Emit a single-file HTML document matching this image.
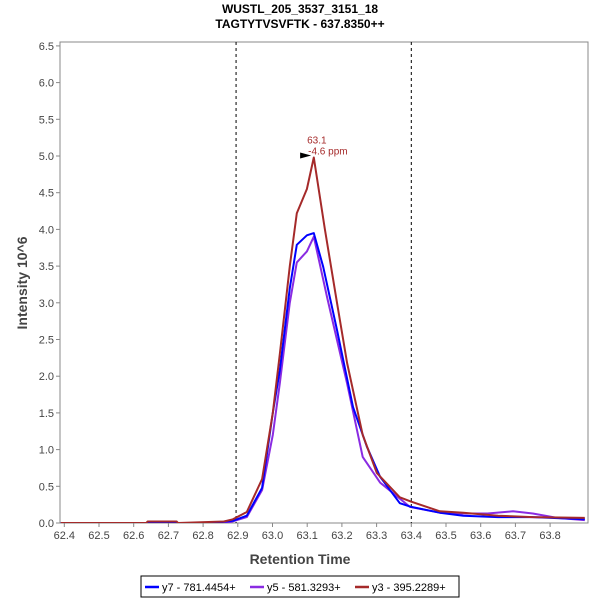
<!DOCTYPE html>
<html><head><meta charset="utf-8"><style>
body{margin:0;background:#fff;font-family:"Liberation Sans",sans-serif}
svg text{font-family:"Liberation Sans",sans-serif}
</style></head><body>
<svg width="600" height="600" xmlns="http://www.w3.org/2000/svg">
<rect x="0" y="0" width="600" height="600" fill="#fff"/>
<text x="300" y="13" text-anchor="middle" font-size="12" font-weight="bold">WUSTL_205_3537_3151_18</text>
<text x="300" y="28" text-anchor="middle" font-size="12" font-weight="bold">TAGTYTVSVFTK - 637.8350++</text>
<g id="axes"></g>
<g id="series"></g>
<text x="300" y="564" text-anchor="middle" font-size="14" font-weight="bold" fill="#444">Retention Time</text>
<text transform="translate(27,283) rotate(-90)" text-anchor="middle" font-size="14" font-weight="bold" fill="#444">Intensity 10^6</text>
<g>
<rect x="141" y="576" width="318" height="21" fill="#fff" stroke="#000"/>
<line x1="145" y1="587" x2="159" y2="587" stroke="#0000ff" stroke-width="2.5"/>
<text x="162" y="591" font-size="11">y7 - 781.4454+</text>
<line x1="250" y1="587" x2="264" y2="587" stroke="#8a2be2" stroke-width="2.5"/>
<text x="267" y="591" font-size="11">y5 - 581.3293+</text>
<line x1="355" y1="587" x2="369" y2="587" stroke="#a52a2a" stroke-width="2.5"/>
<text x="372" y="591" font-size="11">y3 - 395.2289+</text>
</g>
</svg>
<script>
const xTicks=[62.4,62.5,62.6,62.7,62.8,62.9,63.0,63.1,63.2,63.3,63.4,63.5,63.6,63.7,63.8];
const yTicks=[0,0.5,1,1.5,2,2.5,3,3.5,4,4.5,5,5.5,6,6.5];
const boundaries=[62.895,63.4];
const y3X=[62.39,62.636,62.64,62.724,62.728,62.86,62.886,62.926,62.97,63.001,63.021,63.05,63.07,63.099,63.119,63.151,63.186,63.215,63.26,63.301,63.367,63.4,63.482,63.55,63.65,63.75,63.9];
const y3Y=[0,0,0.02,0.02,0,0.02,0.05,0.15,0.6,1.5,2.3,3.5,4.22,4.55,4.98,4.0,3.0,2.18,1.2,0.68,0.35,0.29,0.16,0.14,0.1,0.08,0.07];
const y7X=[62.39,62.83,62.886,62.926,62.97,63.001,63.021,63.05,63.07,63.099,63.119,63.146,63.186,63.232,63.272,63.31,63.367,63.4,63.482,63.55,63.65,63.75,63.9];
const y7Y=[0,0,0.03,0.1,0.48,1.5,2.08,3.2,3.79,3.92,3.95,3.49,2.63,1.58,1.04,0.63,0.27,0.22,0.14,0.1,0.08,0.08,0.05];
const y5X=[62.39,62.87,62.926,62.97,63.001,63.021,63.05,63.07,63.099,63.119,63.157,63.215,63.26,63.31,63.396,63.482,63.55,63.62,63.693,63.75,63.82,63.9];
const y5Y=[0,0,0.08,0.45,1.2,1.9,3.0,3.55,3.7,3.9,3.08,1.9,0.9,0.55,0.22,0.14,0.13,0.13,0.16,0.13,0.07,0.04];
const peakX=63.12, peakY=4.98, peakLabel="63.1";
const NS="http://www.w3.org/2000/svg";
const L=60,R=588,T=42,B=523;
const sx=v=>64.3+(v-62.4)*347;
const sy=v=>B-v*73.4;
function mk(tag,attrs,parent){const e=document.createElementNS(NS,tag);for(const k in attrs)e.setAttribute(k,attrs[k]);parent.appendChild(e);return e;}
const ax=document.getElementById('axes');
const frame=mk('rect',{x:L,y:T,width:R-L,height:B-T,fill:'none',stroke:'#888'},ax);


xTicks.forEach(t=>{const x=sx(t);mk('line',{x1:x,y1:B,x2:x,y2:B+4,stroke:'#888'},ax);
const tx=mk('text',{x:x,y:B+16,'text-anchor':'middle','font-size':11,fill:'#444'},ax);tx.textContent=t.toFixed(1);

});
yTicks.forEach(t=>{const y=sy(t);mk('line',{x1:L-4,y1:y,x2:L,y2:y,stroke:'#888'},ax);
const tx=mk('text',{x:L-6,y:y+4,'text-anchor':'end','font-size':11,fill:'#444'},ax);tx.textContent=t.toFixed(1);

});
boundaries.forEach(b=>{const ln=mk('line',{x1:sx(b),y1:T,x2:sx(b),y2:B,stroke:'#000','stroke-dasharray':'3,3'},ax);

});
const sg=document.getElementById('series');
const clip=mk('clipPath',{id:'pc'},sg);mk('rect',{x:L,y:T,width:R-L,height:B-T},clip);
function draw(xs,ys,color,name){const pts=xs.map((x,i)=>sx(x).toFixed(1)+','+sy(ys[i]).toFixed(1)).join(' ');
const p=mk('polyline',{points:pts,fill:'none',stroke:color,'stroke-width':2,'stroke-linejoin':'round','clip-path':'url(#pc)'},sg);

}
draw(y5X,y5Y,'#8a2be2','series-y5');
draw(y7X,y7Y,'#0000ff','series-y7');
draw(y3X,y3Y,'#a52a2a','series-y3');
const px=sx(peakX),py=sy(peakY);
const tri=mk('polygon',{points:`${px-14},${py-5} ${px-3},${py-2} ${px-14},${py+1}`,fill:'#000'},sg);


const l1=mk('text',{x:px-7,y:py-14,'font-size':10,fill:'#a52a2a'},sg);l1.textContent=peakLabel;


const l2=mk('text',{x:px-6,y:py-3,'font-size':10,fill:'#a52a2a'},sg);l2.textContent='-4.6 ppm';


</script>
</body></html>
